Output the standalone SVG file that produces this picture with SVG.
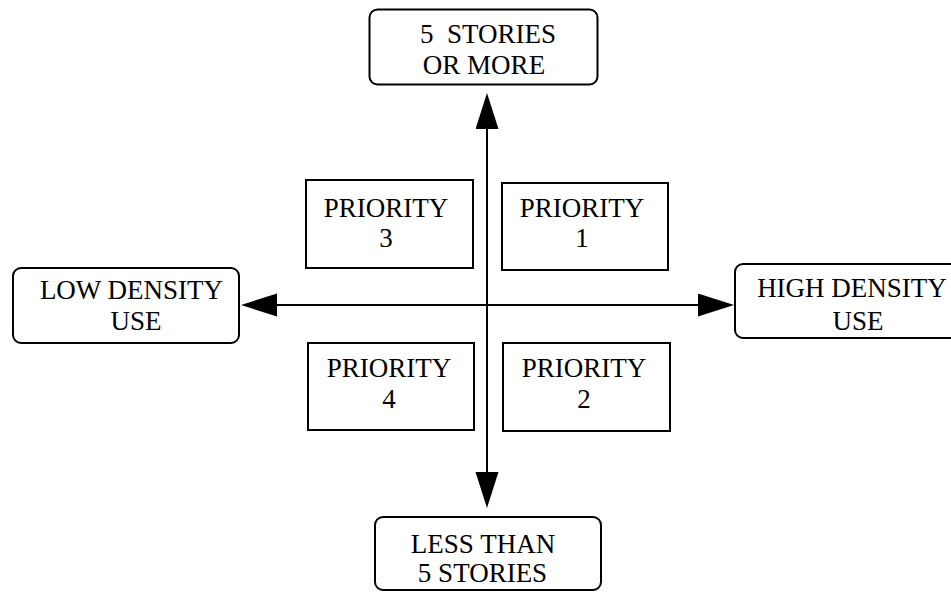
<svg xmlns="http://www.w3.org/2000/svg" width="951" height="592" viewBox="0 0 951 592">
<defs>
<style>
.box{fill:#fff;stroke:#000;stroke-width:2}
.t{font-family:"Liberation Serif","Times New Roman",serif;font-size:27px;fill:#000;text-anchor:middle}
.ax{stroke:#000;stroke-width:2;fill:none}
</style>
<marker id="ah" markerUnits="userSpaceOnUse" markerWidth="38" markerHeight="24" refX="0" refY="11.5" orient="auto-start-reverse" viewBox="0 0 38 24">
<path d="M0,0 L36,11.5 L0,23 Z" fill="#000"/>
</marker>
</defs>
<rect width="951" height="592" fill="#fff"/>
<g id="connectors">
<line class="ax" x1="487" y1="129" x2="487" y2="472" marker-start="url(#ah)" marker-end="url(#ah)"/>
<line class="ax" x1="277" y1="305" x2="698" y2="305" marker-start="url(#ah)" marker-end="url(#ah)"/>
</g>
<g id="top">
<rect class="box" x="369.5" y="9.5" width="228" height="75" rx="8"/>
<text class="t" x="488" y="43" xml:space="preserve">5  STORIES</text>
<text class="t" x="484" y="74">OR MORE</text>
</g>
<g id="left">
<rect class="box" x="13" y="268" width="226" height="75" rx="8"/>
<text class="t" x="131.5" y="299">LOW DENSITY</text>
<text class="t" x="136" y="330">USE</text>
</g>
<g id="right">
<rect class="box" x="735" y="264" width="226" height="74" rx="8"/>
<text class="t" x="852" y="297">HIGH DENSITY</text>
<text class="t" x="858" y="330">USE</text>
</g>
<g id="bottom">
<rect class="box" x="375" y="517" width="226" height="73" rx="8"/>
<text class="t" x="483" y="553">LESS THAN</text>
<text class="t" x="482.5" y="582">5 STORIES</text>
</g>
<g id="p3">
<rect class="box" x="306" y="180" width="167" height="88"/>
<text class="t" x="386" y="217">PRIORITY</text>
<text class="t" x="386" y="247">3</text>
</g>
<g id="p1">
<rect class="box" x="502" y="183" width="166" height="87"/>
<text class="t" x="582" y="217">PRIORITY</text>
<text class="t" x="582" y="247">1</text>
</g>
<g id="p4">
<rect class="box" x="308" y="343" width="166" height="87"/>
<text class="t" x="389" y="377">PRIORITY</text>
<text class="t" x="389" y="408">4</text>
</g>
<g id="p2">
<rect class="box" x="503" y="343" width="167" height="88"/>
<text class="t" x="584" y="377">PRIORITY</text>
<text class="t" x="584" y="408">2</text>
</g>
</svg>
